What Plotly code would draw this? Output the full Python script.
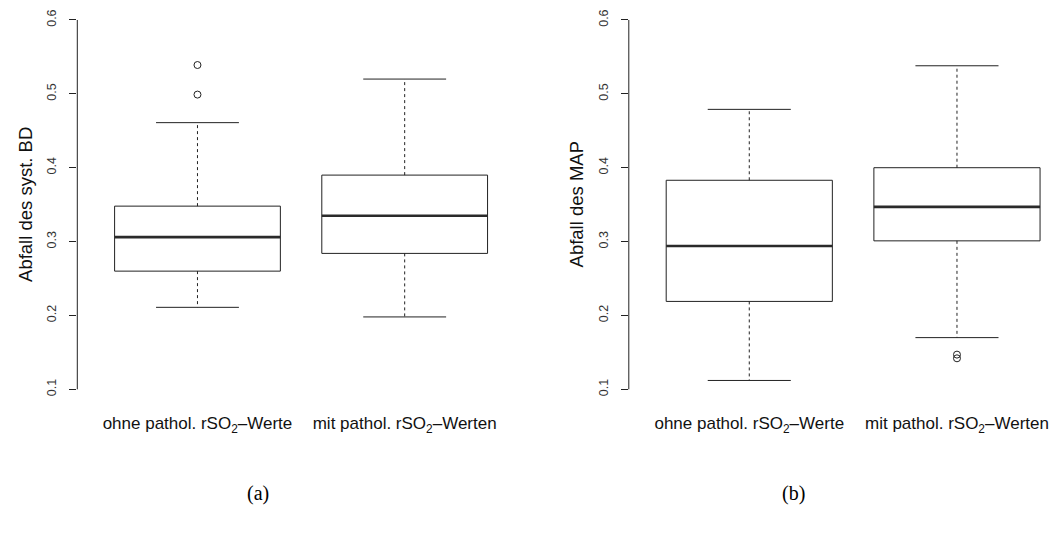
import plotly.graph_objects as go

# ---- data ----
categories = ["ohne pathol. rSO<sub>2</sub>–Werte", "mit pathol. rSO<sub>2</sub>–Werten"]
positions = [1, 2]

# panel (a): Abfall des syst. BD
bd_lower = [0.211, 0.198]
bd_q1 = [0.260, 0.284]
bd_median = [0.306, 0.335]
bd_q3 = [0.348, 0.390]
bd_upper = [0.461, 0.520]
bd_outliers = [[0.539, 0.499], []]

# panel (b): Abfall des MAP
map_lower = [0.112, 0.170]
map_q1 = [0.219, 0.301]
map_median = [0.294, 0.347]
map_q3 = [0.383, 0.400]
map_upper = [0.479, 0.538]
map_outliers = [[], [0.147, 0.142]]

y_ticks = [0.1, 0.2, 0.3, 0.4, 0.5, 0.6]
y_titles = ["Abfall des syst. BD", "Abfall des MAP"]
panel_labels = ["(a)", "(b)"]

BOX_HALF = 0.4
CAP_HALF = 0.2
LINE = "#222222"

fig = go.Figure()


def add_panel(xa, ya, lower, q1, med, q3, upper, outl):
    for i, c in enumerate(positions):
        fig.add_trace(go.Scatter(
            x=[c - BOX_HALF, c + BOX_HALF, c + BOX_HALF, c - BOX_HALF, c - BOX_HALF],
            y=[q1[i], q1[i], q3[i], q3[i], q1[i]],
            mode="lines", line=dict(color=LINE, width=1),
            fill="toself", fillcolor="white",
            xaxis=xa, yaxis=ya, showlegend=False, hoverinfo="skip"))
        fig.add_trace(go.Scatter(
            x=[c - BOX_HALF, c + BOX_HALF], y=[med[i], med[i]],
            mode="lines", line=dict(color="#2a2a2a", width=2.6),
            xaxis=xa, yaxis=ya, showlegend=False, hoverinfo="skip"))
        for a, b in ((q3[i], upper[i]), (q1[i], lower[i])):
            fig.add_trace(go.Scatter(
                x=[c, c], y=[a, b], mode="lines",
                line=dict(color=LINE, width=1, dash="3px,3px"),
                xaxis=xa, yaxis=ya, showlegend=False, hoverinfo="skip"))
        for v in (upper[i], lower[i]):
            fig.add_trace(go.Scatter(
                x=[c - CAP_HALF, c + CAP_HALF], y=[v, v], mode="lines",
                line=dict(color=LINE, width=1),
                xaxis=xa, yaxis=ya, showlegend=False, hoverinfo="skip"))
        if outl[i]:
            fig.add_trace(go.Scatter(
                x=[c] * len(outl[i]), y=outl[i], mode="markers",
                marker=dict(symbol="circle-open", size=7, color=LINE, line=dict(width=1)),
                xaxis=xa, yaxis=ya, showlegend=False, hoverinfo="skip"))


add_panel("x", "y", bd_lower, bd_q1, bd_median, bd_q3, bd_upper, bd_outliers)
add_panel("x2", "y2", map_lower, map_q1, map_median, map_q3, map_upper, map_outliers)

W, H = 1054, 534
ydom = [(H - 404.1) / H, (H - 5.2) / H]
x1_left, x1_scale = 77.3, 207.2
x2_left, x2_scale = 628.8, 207.7

xcommon = dict(tickmode="array", tickvals=positions, ticktext=categories,
               ticks="", showline=False, showgrid=False, zeroline=False,
               tickfont=dict(family="Liberation Sans, Arial", size=17, color="#111"),
               ticklabelstandoff=7)
ycommon = dict(range=[0.08, 0.62], domain=ydom, tickmode="array", tickvals=y_ticks,
               ticktext=[f"{v:.1f}" for v in y_ticks], ticks="outside", ticklen=7,
               tickcolor=LINE, tickwidth=1, tickangle=-90,
               showline=False, showgrid=False, zeroline=False,
               tickfont=dict(family="Liberation Sans, Arial", size=12.5, color="#333"),
               ticklabelstandoff=8)

fig.update_layout(
    width=W, height=H, margin=dict(l=0, r=0, t=0, b=0),
    paper_bgcolor="white", plot_bgcolor="white",
    xaxis=dict(domain=[x1_left / W, (x1_left + 2.16 * x1_scale) / W],
               range=[0.42, 2.58], anchor="y", **xcommon),
    yaxis=dict(anchor="x", **ycommon),
    xaxis2=dict(domain=[x2_left / W, 1.0],
                range=[0.42, 0.42 + (W - x2_left) / x2_scale], anchor="y2", **xcommon),
    yaxis2=dict(anchor="x2", **ycommon),
)

for xd, yr in (("x domain", "y"), ("x2 domain", "y2")):
    fig.add_shape(type="line", xref=xd, yref=yr, x0=0, x1=0,
                  y0=y_ticks[0], y1=y_ticks[-1], line=dict(color=LINE, width=1))

ymid = (ydom[0] + ydom[1]) / 2
for xpix, t in ((x1_left - 52, y_titles[0]), (x2_left - 52, y_titles[1])):
    fig.add_annotation(text=t, xref="paper", yref="paper", x=xpix / W, y=ymid,
                       textangle=-90, showarrow=False, xanchor="center", yanchor="middle",
                       font=dict(family="Liberation Sans, Arial", size=18.5, color="#111"))

for xpix, t in ((258, panel_labels[0]), (793, panel_labels[1])):
    fig.add_annotation(text=t, xref="paper", yref="paper", x=xpix / W, y=(H - 493) / H,
                       showarrow=False, xanchor="center", yanchor="middle",
                       font=dict(family="Liberation Serif, Times New Roman", size=20, color="#000"))

fig.write_html("out.html")
